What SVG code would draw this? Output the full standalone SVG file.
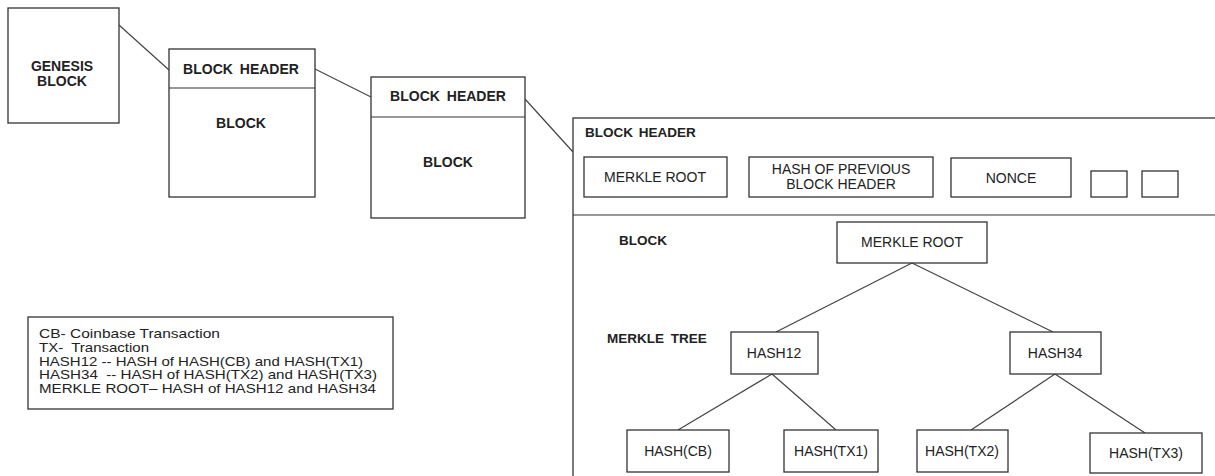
<svg xmlns="http://www.w3.org/2000/svg" width="1215" height="476" viewBox="0 0 1215 476">
<style>
rect{fill:#fff;stroke:#333;stroke-width:1.3}
line{stroke:#444;stroke-width:1.2}
text{font-family:"Liberation Sans",Arial,sans-serif;fill:#222}
.b{font-weight:bold;font-size:14px}
.r{font-size:14px}
.m{text-anchor:middle}
.l{font-size:13px}
</style>
<rect x="0" y="0" width="1215" height="476" style="fill:#fff;stroke:none"/>
<g id="genesis">
<rect x="8" y="8" width="111" height="115"/>
<text class="b m" x="62" y="71">GENESIS</text>
<text class="b m" x="62" y="86">BLOCK</text>
</g>
<g id="block2">
<rect x="169" y="49" width="146" height="148"/>
<line x1="169" y1="88" x2="315" y2="88" style="stroke:#333"/>
<text class="b m" x="241" y="74" style="word-spacing:3px">BLOCK HEADER</text>
<text class="b m" x="241" y="128">BLOCK</text>
</g>
<g id="block3">
<rect x="371" y="77" width="154" height="141"/>
<line x1="371" y1="117" x2="525" y2="117" style="stroke:#333"/>
<text class="b m" x="448" y="101" style="word-spacing:3px">BLOCK HEADER</text>
<text class="b m" x="448" y="167">BLOCK</text>
</g>
<g id="detail">
<rect x="573" y="118" width="700" height="400"/>
<line x1="573" y1="215" x2="1215" y2="215" style="stroke:#333"/>
<text class="b" x="585" y="137" style="font-size:13.5px;word-spacing:2px">BLOCK HEADER</text>
<text class="b" x="619" y="245" style="font-size:13.5px">BLOCK</text>
<text class="b" x="607" y="343" style="font-size:13.5px;word-spacing:3px">MERKLE TREE</text>
</g>
<g id="connectors">
<line x1="119" y1="25" x2="169" y2="70"/>
<line x1="315" y1="69" x2="371" y2="97"/>
<line x1="525" y1="99" x2="573" y2="152"/>
<line x1="912" y1="263" x2="776" y2="332"/>
<line x1="912" y1="263" x2="1053" y2="332"/>
<line x1="772" y1="374" x2="678" y2="430"/>
<line x1="772" y1="374" x2="836" y2="430"/>
<line x1="1055" y1="374" x2="971" y2="430"/>
<line x1="1055" y1="374" x2="1145" y2="433"/>
</g>
<g id="hdr-merkle-root">
<rect x="584" y="157" width="143" height="40"/>
<text class="r m" x="655" y="182">MERKLE ROOT</text>
</g>
<g id="hdr-prev-hash">
<rect x="749" y="157" width="184" height="40"/>
<text class="r m" x="841" y="174">HASH OF PREVIOUS</text>
<text class="r m" x="841" y="189">BLOCK HEADER</text>
</g>
<g id="hdr-nonce">
<rect x="951" y="158" width="120" height="39"/>
<text class="r m" x="1011" y="183">NONCE</text>
</g>
<g id="hdr-extra1"><rect x="1091" y="171" width="36" height="26"/></g>
<g id="hdr-extra2"><rect x="1142" y="171" width="36" height="26"/></g>
<g id="tree-root">
<rect x="837" y="222" width="150" height="41"/>
<text class="r m" x="912" y="247">MERKLE ROOT</text>
</g>
<g id="hash12">
<rect x="731" y="332" width="87" height="42"/>
<text class="r m" x="774" y="358">HASH12</text>
</g>
<g id="hash34">
<rect x="1010" y="332" width="91" height="42"/>
<text class="r m" x="1055" y="358">HASH34</text>
</g>
<g id="hash-cb">
<rect x="627" y="430" width="102" height="42"/>
<text class="r m" x="678" y="456">HASH(CB)</text>
</g>
<g id="hash-tx1">
<rect x="784" y="430" width="94" height="42"/>
<text class="r m" x="831" y="456">HASH(TX1)</text>
</g>
<g id="hash-tx2">
<rect x="917" y="430" width="91" height="42"/>
<text class="r m" x="962" y="456">HASH(TX2)</text>
</g>
<g id="hash-tx3">
<rect x="1090" y="433" width="112" height="40"/>
<text class="r m" x="1146" y="458">HASH(TX3)</text>
</g>
<g id="legend">
<rect x="28" y="317" width="365" height="92"/>
<text class="l" x="39" y="338" textLength="181" lengthAdjust="spacingAndGlyphs">CB- Coinbase Transaction</text>
<text class="l" x="39" y="352" textLength="110" lengthAdjust="spacingAndGlyphs" xml:space="preserve">TX-  Transaction</text>
<text class="l" x="39" y="366" textLength="324" lengthAdjust="spacingAndGlyphs">HASH12 -- HASH of HASH(CB) and HASH(TX1)</text>
<text class="l" x="39" y="379" textLength="338" lengthAdjust="spacingAndGlyphs" xml:space="preserve">HASH34  -- HASH of HASH(TX2) and HASH(TX3)</text>
<text class="l" x="39" y="393" textLength="337" lengthAdjust="spacingAndGlyphs">MERKLE ROOT– HASH of HASH12 and HASH34</text>
</g>
</svg>
